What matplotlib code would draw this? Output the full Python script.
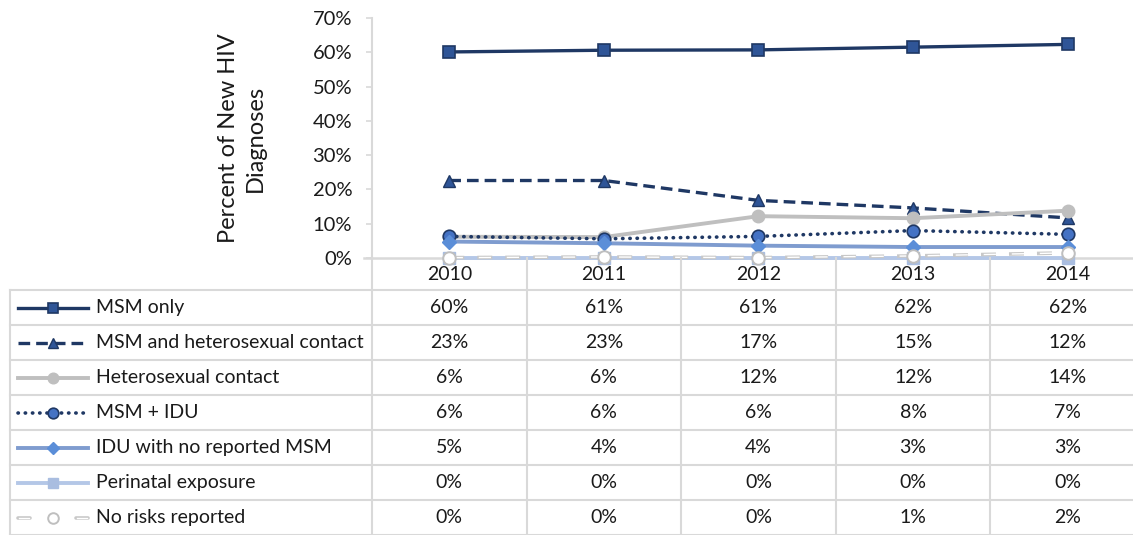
import matplotlib
matplotlib.use("Agg")
import matplotlib.pyplot as plt

plt.rcParams['font.family'] = ['Lato', 'DejaVu Sans']

years = ['2010', '2011', '2012', '2013', '2014']
series_names = ['MSM only', 'MSM and heterosexual contact', 'Heterosexual contact',
                'MSM + IDU', 'IDU with no reported MSM', 'Perinatal exposure',
                'No risks reported']
msm_only = [60.1, 60.6, 60.7, 61.5, 62.3]
msm_hetero = [22.6, 22.6, 16.8, 14.6, 11.7]
hetero = [6.2, 6.1, 12.2, 11.6, 13.8]
msm_idu = [6.3, 5.6, 6.3, 8.0, 6.9]
idu = [4.8, 4.3, 3.6, 3.2, 3.2]
perinatal = [0.1, 0.1, 0.1, 0.1, 0.1]
no_risk = [0.1, 0.3, 0.1, 0.6, 1.5]
table_labels = [
    ['60%', '61%', '61%', '62%', '62%'],
    ['23%', '23%', '17%', '15%', '12%'],
    ['6%', '6%', '12%', '12%', '14%'],
    ['6%', '6%', '6%', '8%', '7%'],
    ['5%', '4%', '4%', '3%', '3%'],
    ['0%', '0%', '0%', '0%', '0%'],
    ['0%', '0%', '0%', '1%', '2%'],
]
yticks = [0, 10, 20, 30, 40, 50, 60, 70]

W, H = 1133, 535
fig = plt.figure(figsize=(W / 100, H / 100), dpi=100)
TXT = '#1A1A1A'
FS = 14

# pixel layout
ax_left, ax_right, ax_top, ax_bottom = 372, 1145, 18, 258
ax = fig.add_axes([ax_left / W, 1 - ax_bottom / H, (ax_right - ax_left) / W,
                   (ax_bottom - ax_top) / H])
ax.set_xlim(-0.5, 4.5)
ax.set_ylim(0, 70)
ax.patch.set_alpha(0)
for s in ['top', 'right', 'bottom']:
    ax.spines[s].set_visible(False)
ax.spines['left'].set_color('#D9D9D9')
ax.spines['left'].set_linewidth(1.5)
ax.set_xticks([])
ax.set_yticks(yticks)
ax.set_yticklabels([f'{v}%' for v in yticks], fontsize=14.5, color=TXT)
ax.tick_params(axis='y', length=4.3, width=1.2, color='#D9D9D9', pad=10)

xs = list(range(len(years)))

styles = [
    dict(color='#1F3864', lw=2.4, ls='-', marker='s', ms=8.5, mfc='#2F5597', mec='#1F3864', mew=1.2),
    dict(color='#1F3864', lw=2.4, ls=(0, (3.5, 1.8)), marker='^', ms=9, mfc='#2F5597', mec='#1F3864', mew=1.0),
    dict(color='#BFBFBF', lw=2.8, ls='-', marker='o', ms=9, mfc='#BFBFBF', mec='#BFBFBF', mew=1.0),
    dict(color='#1F3864', lw=2.6, ls=(0, (0.1, 1.9)), marker='o', ms=9, mfc='#4472C4', mec='#1F3864', mew=1.2),
    dict(color='#7F9CCF', lw=2.8, ls='-', marker='D', ms=7.5, mfc='#5B8ED8', mec='#5B8ED8', mew=1.0),
    dict(color='#B4C7E7', lw=2.8, ls='-', marker='s', ms=8, mfc='#A9BDE0', mec='#A9BDE0', mew=1.0),
    dict(color='#C8C8C8', lw=2.6, ls=(0, (4.15, 3.6)), marker='o', ms=9, mfc='white', mec='#BFBFBF', mew=1.4),
]
data = [msm_only, msm_hetero, hetero, msm_idu, idu, perinatal, no_risk]
inner_ls = (19.2, (8.8, 11.4))  # white core of hollow dashes

# horizontal axis line
ax.axhline(0, color='#D9D9D9', lw=1.8, zorder=1, xmin=-0.01, clip_on=False)

for i, (vals, st) in enumerate(zip(data, styles)):
    if i == 6:
        ax.plot(xs, vals, color=st['color'], lw=st['lw'], ls=st['ls'], zorder=3 + i,
                clip_on=False)
        ax.plot(xs, vals, color='white', lw=1.0, ls=inner_ls, zorder=3 + i,
                clip_on=False)
        ax.plot(xs, vals, ls='none', marker=st['marker'], ms=st['ms'], mfc=st['mfc'],
                mec=st['mec'], mew=st['mew'], zorder=3 + i, clip_on=False)
        continue
    ax.plot(xs, vals, color=st['color'], lw=st['lw'], ls=st['ls'], marker=st['marker'],
            ms=st['ms'], mfc=st['mfc'], mec=st['mec'], mew=st['mew'],
            dash_capstyle='round' if i == 3 else 'butt', zorder=3 + i, clip_on=False)

# table overlay in pixel coordinates
tab = fig.add_axes([0, 0, 1, 1])
tab.set_xlim(0, W)
tab.set_ylim(H, 0)
tab.axis('off')
tab.patch.set_alpha(0)

tab.text(242, 138, 'Percent of New HIV\nDiagnoses', rotation=90, ha='center',
         va='center', multialignment='center', fontsize=17, color=TXT,
         linespacing=1.3)

grid_c = '#D9D9D9'
col_w = (ax_right - ax_left) / len(years)
col_edges = [ax_left + k * col_w for k in range(len(years) + 1)]
row_top = 290
row_h = 35
n_rows = len(series_names)

# header row year labels
for k, yr in enumerate(years):
    tab.text(ax_left + (k + 0.5) * col_w, 274, yr, ha='center', va='center',
             fontsize=FS, color=TXT)

# vertical lines
for k, xe in enumerate(col_edges):
    tab.plot([xe, xe], [ax_bottom, H + 2], color=grid_c, lw=1.5, zorder=1)
tab.plot([10, 10], [row_top, H + 2], color=grid_c, lw=1.5, zorder=1)
# horizontal lines
for r in range(n_rows + 1):
    yy = row_top + r * row_h
    tab.plot([10, W + 20], [yy, yy], color=grid_c, lw=1.5, zorder=1)

for r, name in enumerate(series_names):
    yc = row_top + (r + 0.5) * row_h
    st = styles[r]
    if r == 6:
        for xa, xb in [(18, 30), (76, 88)]:
            tab.plot([xa, xb], [yc, yc], color=st['color'], lw=st['lw'],
                     solid_capstyle='round', zorder=3)
            tab.plot([xa + 1, xb - 1], [yc, yc], color='white', lw=1.0, zorder=3)
        tab.plot([53], [yc], ls='none', marker='o', ms=st['ms'] * 0.85, mfc='white',
                 mec=st['mec'], mew=st['mew'], zorder=4)
    else:
        tab.plot([18, 53, 88], [yc, yc, yc], color=st['color'], lw=st['lw'], ls=st['ls'],
                 marker=st['marker'], ms=st['ms'] * 0.85, mfc=st['mfc'], mec=st['mec'],
                 mew=st['mew'], markevery=[1],
                 dash_capstyle='round' if r == 3 else 'butt', zorder=3)
    tab.text(96, yc, name, ha='left', va='center', fontsize=FS, color=TXT)
    for k in range(len(years)):
        tab.text(ax_left + (k + 0.5) * col_w, yc, table_labels[r][k], ha='center',
                 va='center', fontsize=FS, color=TXT)

fig.savefig('out.png', dpi=100)
